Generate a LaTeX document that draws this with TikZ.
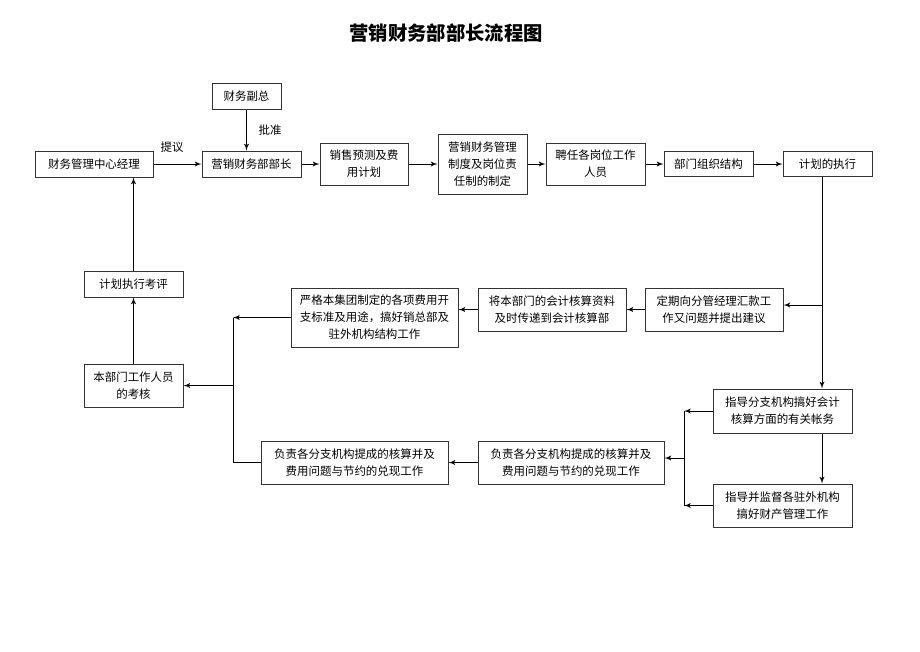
\documentclass[tikz,border=0pt]{standalone}
\usepackage{fontspec}
\setmainfont{Noto Sans CJK SC}
\usetikzlibrary{arrows}

\begin{document}
\begin{tikzpicture}[x=0.75pt,y=-0.75pt]
 \tikzstyle{arrow} = [->,>=latex',line width=0.75pt];
 \tikzstyle{line} = [line width=0.75pt];
 \tikzstyle{box} = [draw=black!80,line width=0.75pt,align=center,inner sep=0pt,
                    font=\fontsize{8.6}{12.75}\selectfont];
 \tikzstyle{lbl} = [inner sep=0pt,font=\fontsize{8.6}{12.75}\selectfont];

 \useasboundingbox (0,0) rectangle (920,651);

 \node[name=title,font=\fontsize{14.5}{16}\selectfont\bfseries] at (446,33)
                                        {营销财务部部长流程图};

 % top row
 \node[box,name=fz,minimum width=51.75pt,minimum height=19.5pt] at (246.5,96)
                                        {财务副总};
 \node[box,name=jl,minimum width=88.5pt,minimum height=19.5pt] at (94,164)
                                        {财务管理中心经理};
 \node[box,name=bz,minimum width=74.25pt,minimum height=19.5pt] at (251.5,164)
                                        {营销财务部部长};
 \node[box,name=yc,minimum width=66pt,minimum height=31.5pt] at (364,164)
                                        {销售预测及费\\用计划};
 \node[box,name=zd,minimum width=66.75pt,minimum height=45pt] at (482.5,164)
                                        {营销财务管理\\制度及岗位责\\任制的制定};
 \node[box,name=pr,minimum width=74.25pt,minimum height=31.5pt] at (595.5,164)
                                        {聘任各岗位工作\\人员};
 \node[box,name=zz,minimum width=66.75pt,minimum height=18.75pt] at (708.5,164)
                                        {部门组织结构};
 \node[box,name=zx,minimum width=66.75pt,minimum height=18.75pt] at (827.5,164)
                                        {计划的执行};

 \node[lbl,name=ty] at (172,147) {提议};
 \node[lbl,name=pz] at (270,130) {批准};

 % middle row
 \node[box,name=dq,minimum width=103.5pt,minimum height=32.25pt] at (714,309.5)
                                        {定期向分管经理汇款工\\作又问题并提出建议};
 \node[box,name=cd,minimum width=111pt,minimum height=32.25pt] at (552,309.5)
                                        {将本部门的会计核算资料\\及时传递到会计核算部};
 \node[box,name=yg,minimum width=125.25pt,minimum height=44.25pt] at (374.5,317.5)
                                        {严格本集团制定的各项费用开\\支标准及用途，搞好销总部及\\驻外机构结构工作};

 % left column
 \node[box,name=kp,minimum width=74.25pt,minimum height=19.5pt] at (133.5,284)
                                        {计划执行考评};
 \node[box,name=kh,minimum width=74.25pt,minimum height=32.25pt] at (133.5,385.5)
                                        {本部门工作人员\\的考核};

 % bottom rows
 \node[box,name=fzL,minimum width=140.25pt,minimum height=32.25pt] at (354.5,462.5)
                                        {负责各分支机构提成的核算并及\\费用问题与节约的兑现工作};
 \node[box,name=fzR,minimum width=139.5pt,minimum height=32.25pt] at (571,462.5)
                                        {负责各分支机构提成的核算并及\\费用问题与节约的兑现工作};
 \node[box,name=zdA,minimum width=104.25pt,minimum height=33pt] at (782.5,411)
                                        {指导分支机构搞好会计\\核算方面的有关帐务};
 \node[box,name=zdB,minimum width=104.25pt,minimum height=32.25pt] at (782.5,505.5)
                                        {指导并监督各驻外机构\\搞好财产管理工作};

 \coordinate (v1) at (822,305);
 \coordinate (v2) at (233,322);
 \coordinate (v3) at (684,458);

 % top row arrows
 \draw[arrow] (fz.south) -- (fz.south |- bz.north);
 \draw[arrow] (jl) -- (bz);
 \draw[arrow] (bz) -- (yc);
 \draw[arrow] (yc) -- (zd);
 \draw[arrow] (zd) -- (pr);
 \draw[arrow] (pr) -- (zz);
 \draw[arrow] (zz) -- (zx);

 % right side
 \draw[arrow] (zx.south -| v1) -- (v1 |- zdA.north);
 \draw[arrow] (v1) -- (v1 -| dq.east);
 \draw[arrow] (dq) -- (cd);
 \draw[arrow] (cd.west) -- (cd.west -| yg.east);
 \draw[arrow] (zdA.south -| v1) -- (v1 |- zdB.north);

 % left side
 \draw[arrow] (yg.west) -- (yg.west -| v2);
 \draw[line] (v2 |- yg.west) -- (v2 |- fzL.west) -- (fzL.west);
 \draw[arrow] (v2 |- kh.east) -- (kh.east);
 \draw[arrow] (kh) -- (kp);
 \draw[arrow] (kp.north) -- (kp.north |- jl.south);

 % bottom
 \draw[arrow] (zdA.west) -- (zdA.west -| v3);
 \draw[arrow] (zdB.west) -- (zdB.west -| v3);
 \draw[line] (v3 |- zdA.west) -- (v3 |- zdB.west);
 \draw[arrow] (v3) -- (v3 -| fzR.east);
 \draw[arrow] (fzR) -- (fzL);
\end{tikzpicture}
\end{document}
